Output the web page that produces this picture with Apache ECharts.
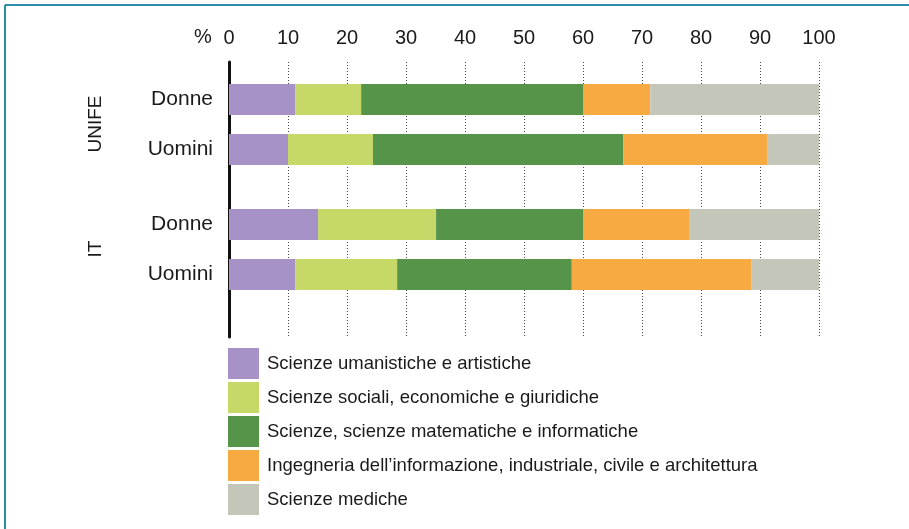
<!DOCTYPE html>
<html>
<head>
<meta charset="utf-8">
<script src="https://cdn.jsdelivr.net/npm/echarts@6/dist/echarts.min.js"></script>
<style>
  html, body { margin: 0; padding: 0; background: #fff; }
  #chart { width: 909px; height: 529px; }
</style>
</head>
<body>
<div id="chart"></div>
<script>
// righe dell'asse y (le vuote fanno da spaziatura tra i gruppi)
const rowLabels = ['', 'Donne', '', 'Uomini', '', '', 'Donne', '', 'Uomini', '', ''];
// riga occupata da ogni barra: UNIFE Donne, UNIFE Uomini, IT Donne, IT Uomini
const barRows = [1, 3, 6, 8];
const groupLabels = ['UNIFE', 'IT'];
const xTicks = [0, 10, 20, 30, 40, 50, 60, 70, 80, 90, 100];

const areaNames = [
  'Scienze umanistiche e artistiche',
  'Scienze sociali, economiche e giuridiche',
  'Scienze, scienze matematiche e informatiche',
  'Ingegneria dell\u2019informazione, industriale, civile e architettura',
  'Scienze mediche'
];
// valori % per UNIFE Donne, UNIFE Uomini, IT Donne, IT Uomini
const umanistiche = [11.2, 10.0, 15.1, 11.2];
const sociali     = [11.2, 14.4, 20.0, 17.3];
const scienze     = [37.6, 42.4, 24.9, 29.6];
const ingegneria  = [11.4, 24.4, 18.1, 30.4];
const mediche     = [28.6, 8.8, 21.9, 11.5];

const areaValues = [umanistiche, sociali, scienze, ingegneria, mediche];
const areaColors = ['#a692c6', '#c6d867', '#559449', '#f6aa41', '#c5c6ba'];

const font = '"Liberation Sans", Arial, Helvetica, sans-serif';
const textColor = '#1a1a1a';

function toRows(vals) {
  const out = rowLabels.map(() => null);
  barRows.forEach((r, i) => { out[r] = vals[i]; });
  return out;
}

const chart = echarts.init(document.getElementById('chart'));

const series = areaNames.map((name, i) => ({
  name: name,
  type: 'bar',
  stack: 'tot',
  barWidth: 31,
  itemStyle: { color: areaColors[i] },
  emphasis: { disabled: true },
  data: toRows(areaValues[i])
}));

chart.setOption({
  animation: false,
  textStyle: { fontFamily: font },
  grid: { left: 229, right: 90, top: 62, height: 275 },
  xAxis: {
    type: 'value',
    position: 'top',
    min: xTicks[0],
    max: xTicks[xTicks.length - 1],
    interval: 10,
    axisLine: { show: false },
    axisTick: { show: false },
    axisLabel: { fontSize: 20, color: textColor, margin: 14, fontFamily: font },
    splitLine: { show: true, lineStyle: { type: [1, 2], color: '#444', width: 1 } }
  },
  yAxis: {
    type: 'category',
    inverse: true,
    data: rowLabels,
    axisLine: { show: true, lineStyle: { color: '#111', width: 3 } },
    axisTick: { show: false },
    axisLabel: { interval: 0, fontSize: 21, color: textColor, margin: 16, fontFamily: font, padding: [4, 0, 0, 0] },
    splitLine: { show: false }
  },
  legend: {
    orient: 'vertical',
    left: 228,
    top: 348,
    padding: 0,
    icon: 'rect',
    itemWidth: 31,
    itemHeight: 31,
    itemGap: 3,
    selectedMode: false,
    data: areaNames,
    textStyle: { fontSize: 18.5, color: textColor, fontFamily: font, padding: [0, 0, 0, 3] }
  },
  graphic: [
    { type: 'line', shape: { x1: 5, y1: 5, x2: 909, y2: 5 }, style: { stroke: '#2b8cab', lineWidth: 2 } },
    { type: 'line', shape: { x1: 5, y1: 5, x2: 5, y2: 529 }, style: { stroke: '#2b8cab', lineWidth: 2 } },
    { type: 'text', left: 194, top: 27, style: { text: '%', fontSize: 20, fill: textColor, font: '20px ' + font } },
    { type: 'text', x: 96, y: 124, rotation: Math.PI / 2,
      style: { text: groupLabels[0], font: '19px ' + font, fill: textColor, align: 'center', verticalAlign: 'middle' } },
    { type: 'text', x: 96, y: 249, rotation: Math.PI / 2,
      style: { text: groupLabels[1], font: '19px ' + font, fill: textColor, align: 'center', verticalAlign: 'middle' } }
  ],
  series: series
});

window.addEventListener('resize', () => {
  chart.resize();
});
</script>
</body>
</html>
